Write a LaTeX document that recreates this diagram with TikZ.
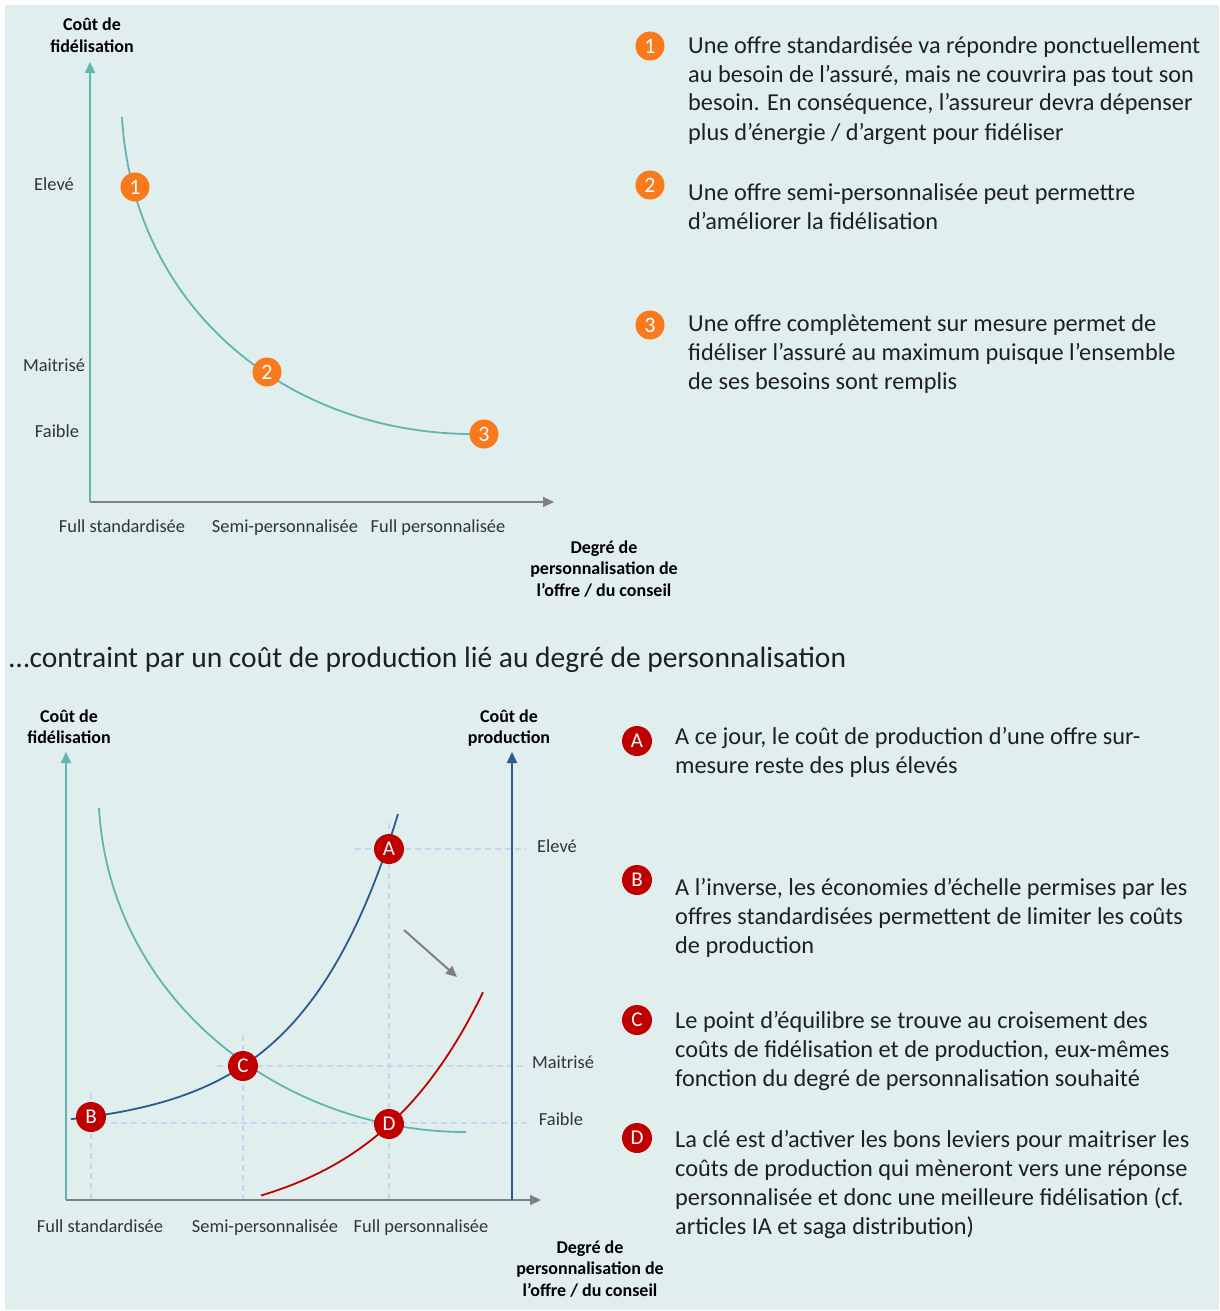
\documentclass[tikz,border=0pt]{standalone}
\usepackage{fontspec}
\setmainfont{Carlito}
\usetikzlibrary{arrows.meta}

\definecolor{fond}{HTML}{E0EFEE}
\definecolor{sarcelle}{HTML}{62B5AF}
\definecolor{marine}{HTML}{2A5A8E}
\definecolor{rouge}{HTML}{C00000}
\definecolor{orangevif}{HTML}{F97A1C}
\definecolor{gris}{HTML}{808080}
\definecolor{pointille}{HTML}{C6D6F2}

\tikzset{
  pastille/.style={circle, fill=orangevif, text=white, inner sep=0pt, minimum size=29pt, font=\fontsize{22}{22}\selectfont},
  lettre/.style={pastille, fill=rouge, minimum size=30pt, font=\fontsize{21}{21}\selectfont},
  niveau/.style={anchor=base, inner sep=0pt, text=black!80, font=\fontsize{18.4}{20}\selectfont},
  titre/.style={anchor=base, align=center, inner sep=0pt, font=\fontsize{18}{21.5}\selectfont\bfseries},
  note/.style={anchor=base west, align=left, inner sep=0pt, text=black!88, font=\fontsize{24.3}{29}\selectfont},
  axe/.style={line width=2pt, -{Triangle[length=11pt, width=10pt]}},
  courbe/.style={line width=1.8pt},
  repere/.style={draw=pointille, line width=1.5pt, dash pattern=on 6pt off 4pt}
}

\begin{document}
\begin{tikzpicture}[x=1pt, y=-1pt]
    \fill[white] (0,0) rectangle (1219,1311);
    \fill[fond] (5,5) rectangle (1219,1310);
    \useasboundingbox (0,0) rectangle (1219,1311);

    % first chart: axes
    \coordinate (o1) at (90,502);
    \coordinate (h1) at (90,62);
    \coordinate (d1) at (554,502);
    \draw[axe, gris]     (o1) -- (d1);
    \draw[axe, sarcelle] (o1) -- (h1);

    % (multi-line nodes: y is the baseline of the last line)
    \node[titre] (y1) at (92,52.5) {Coût de\\fidélisation};
    \node[titre] (x1) at (604,596) {Degré de\\personnalisation de\\l’offre / du conseil};

    \node[niveau] (e1) at (54,190) {Elevé};
    \node[niveau] (m1) at (54,371) {Maitrisé};
    \node[niveau] (f1) at (57,437) {Faible};

    \node[niveau] (s1) at (122,532) {Full standardisée};
    \node[niveau] (sp1) at (285,532) {Semi-personnalisée};
    \node[niveau] (fp1) at (438,532) {Full personnalisée};

    % first chart: curve and points
    \draw[courbe, sarcelle] (122,117) .. controls (133,310) and (290,436) .. (478,434);
    \node[pastille] (p1) at (135,187) {1};
    \node[pastille] (p2) at (267,372) {2};
    \node[pastille] (p3) at (484,434) {3};

    % first chart: notes
    \node[pastille] (n1) at (650,46)  {1};
    \node[pastille] (n2) at (650,185) {2};
    \node[pastille] (n3) at (650,325) {3};
    \node[note] (t1) at (688,140) {Une offre standardisée va répondre ponctuellement\\au besoin de l’assuré, mais ne couvrira pas tout son\\besoin. En conséquence, l’assureur devra dépenser\\plus d’énergie / d’argent pour fidéliser};
    \node[note] (t2) at (688,229) {Une offre semi-personnalisée peut permettre\\d’améliorer la fidélisation};
    \node[note] (t3) at (688,389.5) {Une offre complètement sur mesure permet de\\fidéliser l’assuré au maximum puisque l’ensemble\\de ses besoins sont remplis};

    \node[anchor=base west, inner sep=0pt, text=black!88, font=\fontsize{29.5}{32}\selectfont] (titre) at (9,667) {…contraint par un coût de production lié au degré de personnalisation};

    % second chart: guide lines
    \draw[repere] (355,849) -- (526,849);
    \draw[repere] (217,1066) -- (526,1066);
    \draw[repere] (91,1123) -- (526,1123);
    \draw[repere] (91,1093) -- (91,1200);
    \draw[repere] (243,1035) -- (243,1200);
    \draw[repere] (389,823) -- (389,1200);

    % second chart: axes
    \coordinate (o2) at (66,1200);
    \coordinate (h2) at (66,752);
    \coordinate (d2) at (541,1200);
    \coordinate (b2) at (512,1200);
    \coordinate (k2) at (512,752);
    \draw[axe, gris]     (o2) -- (d2);
    \draw[axe, sarcelle] (o2) -- (h2);
    \draw[axe, marine]   (b2) -- (k2);

    \node[titre] (y2) at (69,743.5) {Coût de\\fidélisation};
    \node[titre] (z2) at (509,743.5) {Coût de\\production};
    \node[titre] (x2) at (590,1296) {Degré de\\personnalisation de\\l’offre / du conseil};

    \node[niveau] (e2) at (557,852) {Elevé};
    \node[niveau] (m2) at (563,1068) {Maitrisé};
    \node[niveau] (f2) at (561,1125) {Faible};

    \node[niveau] (s2) at (100,1232) {Full standardisée};
    \node[niveau] (sp2) at (265,1232) {Semi-personnalisée};
    \node[niveau] (fp2) at (421,1232) {Full personnalisée};

    % second chart: curves
    \draw[courbe, sarcelle] (99,808) .. controls (110,1000) and (282,1132) .. (466,1132);
    \draw[courbe, marine] plot[domain=71:398, samples=80] (\x, {1130-64*exp(0.0103*(\x-243))});
    \draw[courbe, rouge] plot[domain=261:483, samples=60] (\x, {1230-105*exp(0.0087*(\x-389))});

    \coordinate (g1) at (404,930);
    \coordinate (g2) at (457,977);
    \draw[gris, line width=2pt, -{Triangle[length=11pt, width=10pt]}] (g1) -- (g2);

    \node[lettre] (a) at (389,849)  {A};
    \node[lettre] (b) at (91,1117)  {B};
    \node[lettre] (c) at (243,1066) {C};
    \node[lettre] (d) at (389,1124) {D};

    % second chart: notes
    \node[lettre] (na) at (637,741)  {A};
    \node[lettre] (nb) at (637,880)  {B};
    \node[lettre] (nc) at (637,1020) {C};
    \node[lettre] (nd) at (637,1138) {D};
    \begin{scope}[every node/.append style={font=\fontsize{24.7}{29.5}\selectfont}]
    \node[note] (ta) at (675,773) {A ce jour, le coût de production d’une offre sur-\\mesure reste des plus élevés};
    \node[note] (tb) at (675,953) {A l’inverse, les économies d’échelle permises par les\\offres standardisées permettent de limiter les coûts\\de production};
    \node[note] (tc) at (675,1086.5) {Le point d’équilibre se trouve au croisement des\\coûts de fidélisation et de production, eux-mêmes\\fonction du degré de personnalisation souhaité};
    \node[note] (td) at (675,1234) {La clé est d’activer les bons leviers pour maitriser les\\coûts de production qui mèneront vers une réponse\\personnalisée et donc une meilleure fidélisation (cf.\\articles IA et saga distribution)};
    \end{scope}
\end{tikzpicture}
\end{document}
